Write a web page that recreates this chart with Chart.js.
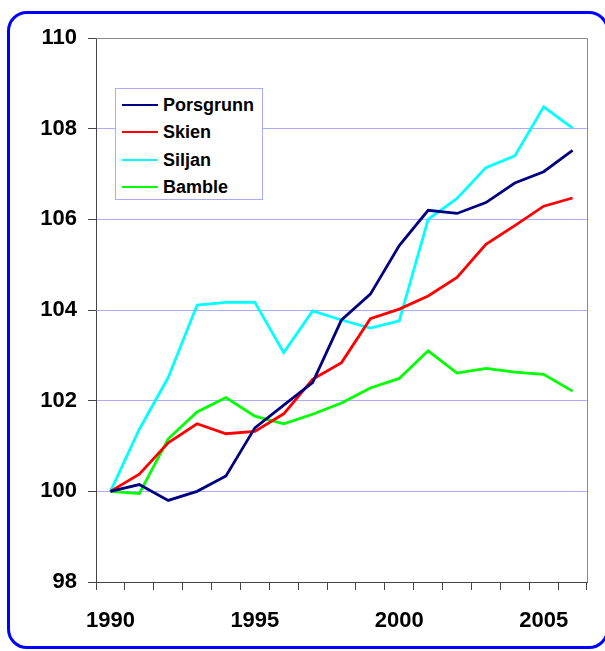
<!DOCTYPE html>
<html>
<head>
<meta charset="utf-8">
<script src="https://cdn.jsdelivr.net/npm/chart.js@4/dist/chart.umd.min.js"></script>
<style>
  html, body { margin: 0; padding: 0; background: #fff; }
  #wrap { position: relative; width: 605px; height: 651px; overflow: hidden; }
  #frame {
    position: absolute; left: 7px; top: 11px; width: 596px; height: 632px;
    border: 3px solid #0000ff; border-radius: 20px; box-sizing: content-box;
  }
  #chart { position: absolute; left: 0; top: 0; }
  #legend {
    position: absolute; left: 115px; top: 88px; width: 146px; height: 110px;
    background: #fff; border: 1px solid #aaaaff;
    font: bold 18px "Liberation Sans", Arial, sans-serif; color: #000;
  }
  #legend .row { position: absolute; left: 0; height: 20px; line-height: 20px; white-space: nowrap; }
  #legend .swatch { position: absolute; left: 6px; top: 9px; width: 36px; height: 2px; }
  #legend .txt { position: absolute; left: 47px; top: 0; }
</style>
</head>
<body>
<div id="wrap">
  <div id="frame"></div>
  <canvas id="chart" width="605" height="651"></canvas>
  <div id="legend"></div>
</div>
<script>
const years = ['1990', '1991', '1992', '1993', '1994', '1995', '1996', '1997', '1998',
  '1999', '2000', '2001', '2002', '2003', '2004', '2005', '2006'];
const seriesNames = ['Porsgrunn', 'Skien', 'Siljan', 'Bamble'];
const seriesColors = ['#000080', '#ff0000', '#00ffff', '#00ff00'];

const porsgrunn = [100, 100.15, 99.8, 100.0, 100.34, 101.4, 101.9, 102.4, 103.78,
  104.35, 105.42, 106.2, 106.13, 106.37, 106.8, 107.05, 107.52];
const skien = [100, 100.38, 101.07, 101.49, 101.27, 101.32, 101.71, 102.47, 102.84,
  103.81, 104.02, 104.31, 104.72, 105.45, 105.86, 106.29, 106.47];
const siljan = [100, 101.37, 102.51, 104.11, 104.17, 104.17, 103.06, 103.98, 103.78,
  103.6, 103.76, 106.0, 106.46, 107.14, 107.4, 108.48, 108.01];
const bamble = [100, 99.95, 101.16, 101.75, 102.07, 101.66, 101.49, 101.7, 101.95,
  102.28, 102.49, 103.1, 102.61, 102.71, 102.63, 102.58, 102.21];

const yMin = 98, yMax = 110, yStep = 2;
const labeledYears = ['1990', '1995', '2000', '2005'];

const seriesData = [porsgrunn, skien, siljan, bamble];
const tickFont = { family: '"Liberation Sans", Arial, sans-serif', size: 22, weight: 'bold' };

// grey frame on top and right of the plot
const plotFrame = {
  id: 'plotFrame',
  beforeDatasetsDraw(chart) {
    const { ctx, chartArea: a } = chart;
    ctx.save();
    ctx.strokeStyle = '#888';
    ctx.lineWidth = 1;
    ctx.beginPath();
    ctx.moveTo(a.left, a.top + 0.5);
    ctx.lineTo(Math.round(a.right) + 0.5, a.top + 0.5);
    ctx.lineTo(Math.round(a.right) + 0.5, a.bottom);
    ctx.stroke();
    ctx.restore();
  }
};

new Chart(document.getElementById('chart'), {
  type: 'line',
  data: {
    labels: years,
    datasets: seriesNames.map((name, i) => ({
      label: name,
      data: seriesData[i],
      borderColor: seriesColors[i],
      backgroundColor: seriesColors[i],
      borderWidth: 2.8,
      pointRadius: 0,
      tension: 0,
      fill: false
    }))
  },
  options: {
    responsive: false,
    animation: false,
    layout: { padding: { left: 0, right: 18, top: 38, bottom: 0 } },
    plugins: { legend: { display: false }, tooltip: { enabled: false } },
    scales: {
      x: {
        offset: true,
        grid: { offset: true, drawOnChartArea: false, drawTicks: true, tickLength: 8, tickColor: '#444' },
        border: { color: '#444', width: 1 },
        ticks: {
          autoSkip: false, maxRotation: 0, color: '#000', font: tickFont, padding: 18,
          callback(v) {
            const l = this.getLabelForValue(v);
            return labeledYears.includes(l) ? l : '';
          }
        },
        afterFit(s) { s.height = 69; }
      },
      y: {
        min: yMin, max: yMax,
        grid: {
          color: c => c.tick.value === yMax ? '#888' : '#aaaaff',
          tickColor: '#444', tickLength: 8, drawTicks: true
        },
        border: { color: '#444', width: 1 },
        ticks: { stepSize: yStep, color: '#000', font: tickFont, padding: 11 },
        afterFit(s) { s.width = 96; }
      }
    }
  },
  plugins: [plotFrame]
});

const legend = document.getElementById('legend');
legend.innerHTML = seriesNames.map((name, i) =>
  `<div class="row" style="top:${6 + i * 27.3}px">` +
  `<div class="swatch" style="background:${seriesColors[i]}"></div>` +
  `<span class="txt">${name}</span></div>`
).join('');
</script>
</body>
</html>
